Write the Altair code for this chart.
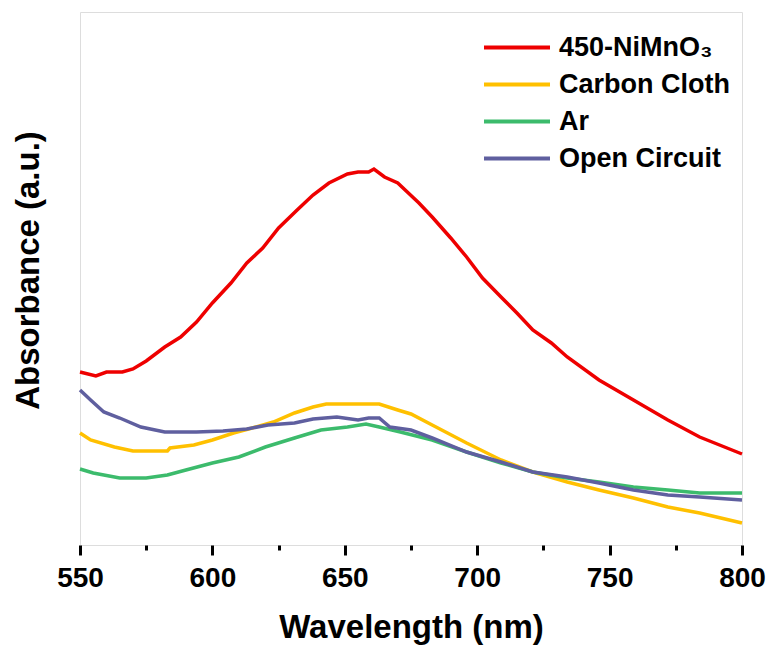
import altair as alt
import pandas as pd

# Wavelength (nm) and absorbance (a.u.)
red_wl = [550, 556, 560, 566, 570, 575, 582, 588, 594, 600, 607, 613, 619, 625, 632, 638, 644, 651, 655, 659, 661,
          665, 670, 674, 678, 683, 690, 696, 702, 709, 715, 721, 728, 734, 746, 759, 772, 784, 800]
red_ab = [0.173, 0.169, 0.173, 0.173, 0.176, 0.184, 0.198, 0.208, 0.223, 0.242, 0.262, 0.282, 0.297, 0.317, 0.335,
          0.350, 0.362, 0.371, 0.373, 0.373, 0.376, 0.368, 0.362, 0.352, 0.342, 0.328, 0.307, 0.288, 0.267, 0.248,
          0.232, 0.215, 0.202, 0.188, 0.165, 0.145, 0.125, 0.108, 0.091]

cc_wl = [550, 554, 563, 570, 583, 584, 593, 600, 608, 615, 623, 631, 638, 643, 663, 670, 675, 683, 696, 709, 721,
         734, 746, 759, 772, 784, 800]
cc_ab = [0.112, 0.105, 0.098, 0.094, 0.094, 0.097, 0.100, 0.105, 0.112, 0.117, 0.123, 0.132, 0.138, 0.141, 0.141,
         0.135, 0.131, 0.120, 0.102, 0.085, 0.073, 0.063, 0.055, 0.047, 0.038, 0.032, 0.022]

ar_wl = [550, 555, 565, 575, 583, 590, 600, 610, 620, 631, 641, 651, 658, 663, 671, 683, 696, 709, 721, 734, 746,
         759, 772, 784, 800]
ar_ab = [0.076, 0.072, 0.067, 0.067, 0.070, 0.075, 0.082, 0.088, 0.098, 0.107, 0.115, 0.118, 0.121, 0.118, 0.113,
         0.105, 0.093, 0.082, 0.073, 0.067, 0.063, 0.058, 0.055, 0.052, 0.052]

oc_wl = [550, 554, 559, 565, 573, 582, 594, 604, 613, 621, 631, 638, 647, 655, 659, 663, 667, 675, 683, 696, 709,
         721, 734, 746, 759, 772, 784, 800]
oc_ab = [0.155, 0.145, 0.133, 0.127, 0.118, 0.113, 0.113, 0.114, 0.116, 0.120, 0.122, 0.126, 0.128, 0.125, 0.127,
         0.127, 0.118, 0.115, 0.107, 0.093, 0.083, 0.073, 0.068, 0.062, 0.055, 0.050, 0.048, 0.045]

series_names = ["450-NiMnO\u2083", "Carbon Cloth", "Ar", "Open Circuit"]
series_colors = ["#EE0000", "#FFC000", "#3CBB6C", "#5F5F9F"]
x_ticks = [550, 575, 600, 625, 650, 675, 700, 725, 750, 775, 800]

frames = []
for i, (wl, ab) in enumerate([(red_wl, red_ab), (cc_wl, cc_ab), (ar_wl, ar_ab), (oc_wl, oc_ab)]):
    frames.append(pd.DataFrame({"wl": wl, "ab": ab, "series": series_names[i], "order": i}))
df = pd.concat(frames, ignore_index=True)

FONT = "Liberation Sans"

chart = alt.Chart(df).mark_line(strokeWidth=3.5).encode(
    x=alt.X("wl:Q",
            scale=alt.Scale(domain=[550, 800], nice=False, zero=False),
            axis=alt.Axis(values=x_ticks, title="Wavelength (nm)", grid=False, domain=False,
                          tickColor="black", tickWidth=3,
                          tickSize=alt.condition("datum.value % 50 === 0", alt.value(10), alt.value(5)),
                          labelExpr="datum.value % 50 === 0 ? datum.label : ''",
                          labelFont=FONT, labelFontSize=28, labelFontWeight="bold", labelColor="black",
                          labelPadding=9, labelOverlap=False, labelFlush=False,
                          titleFont=FONT, titleFontSize=33, titleFontWeight="bold", titleColor="black",
                          titlePadding=19)),
    y=alt.Y("ab:Q",
            scale=alt.Scale(domain=[0, 0.533], nice=False, zero=False),
            axis=alt.Axis(title="Absorbance (a.u.)", grid=False, domain=False, ticks=False, labels=False,
                          titleFont=FONT, titleFontSize=33, titleFontWeight="bold", titleColor="black",
                          titlePadding=35, titleY=258)),
    color=alt.Color("series:N",
                    scale=alt.Scale(domain=series_names, range=series_colors),
                    legend=alt.Legend(title=None, orient="none", legendX=402, legendY=17,
                                      symbolType="stroke", symbolSize=4356, symbolStrokeWidth=4,
                                      clipHeight=37, rowPadding=0, padding=0, labelOffset=7,
                                      labelFont=FONT, labelFontSize=27, labelFontWeight="bold",
                                      labelColor="black", labelLimit=400)),
    detail="order:O",
).properties(
    width=662, height=533,
    autosize=alt.AutoSizeParams(type="none"),
    padding={"left": 72, "top": 4, "right": 24, "bottom": 100},
).configure_view(
    stroke="black", strokeWidth=3
).configure(background="white")

chart.save("out.html", embed_options={"renderer": "svg", "actions": False})
